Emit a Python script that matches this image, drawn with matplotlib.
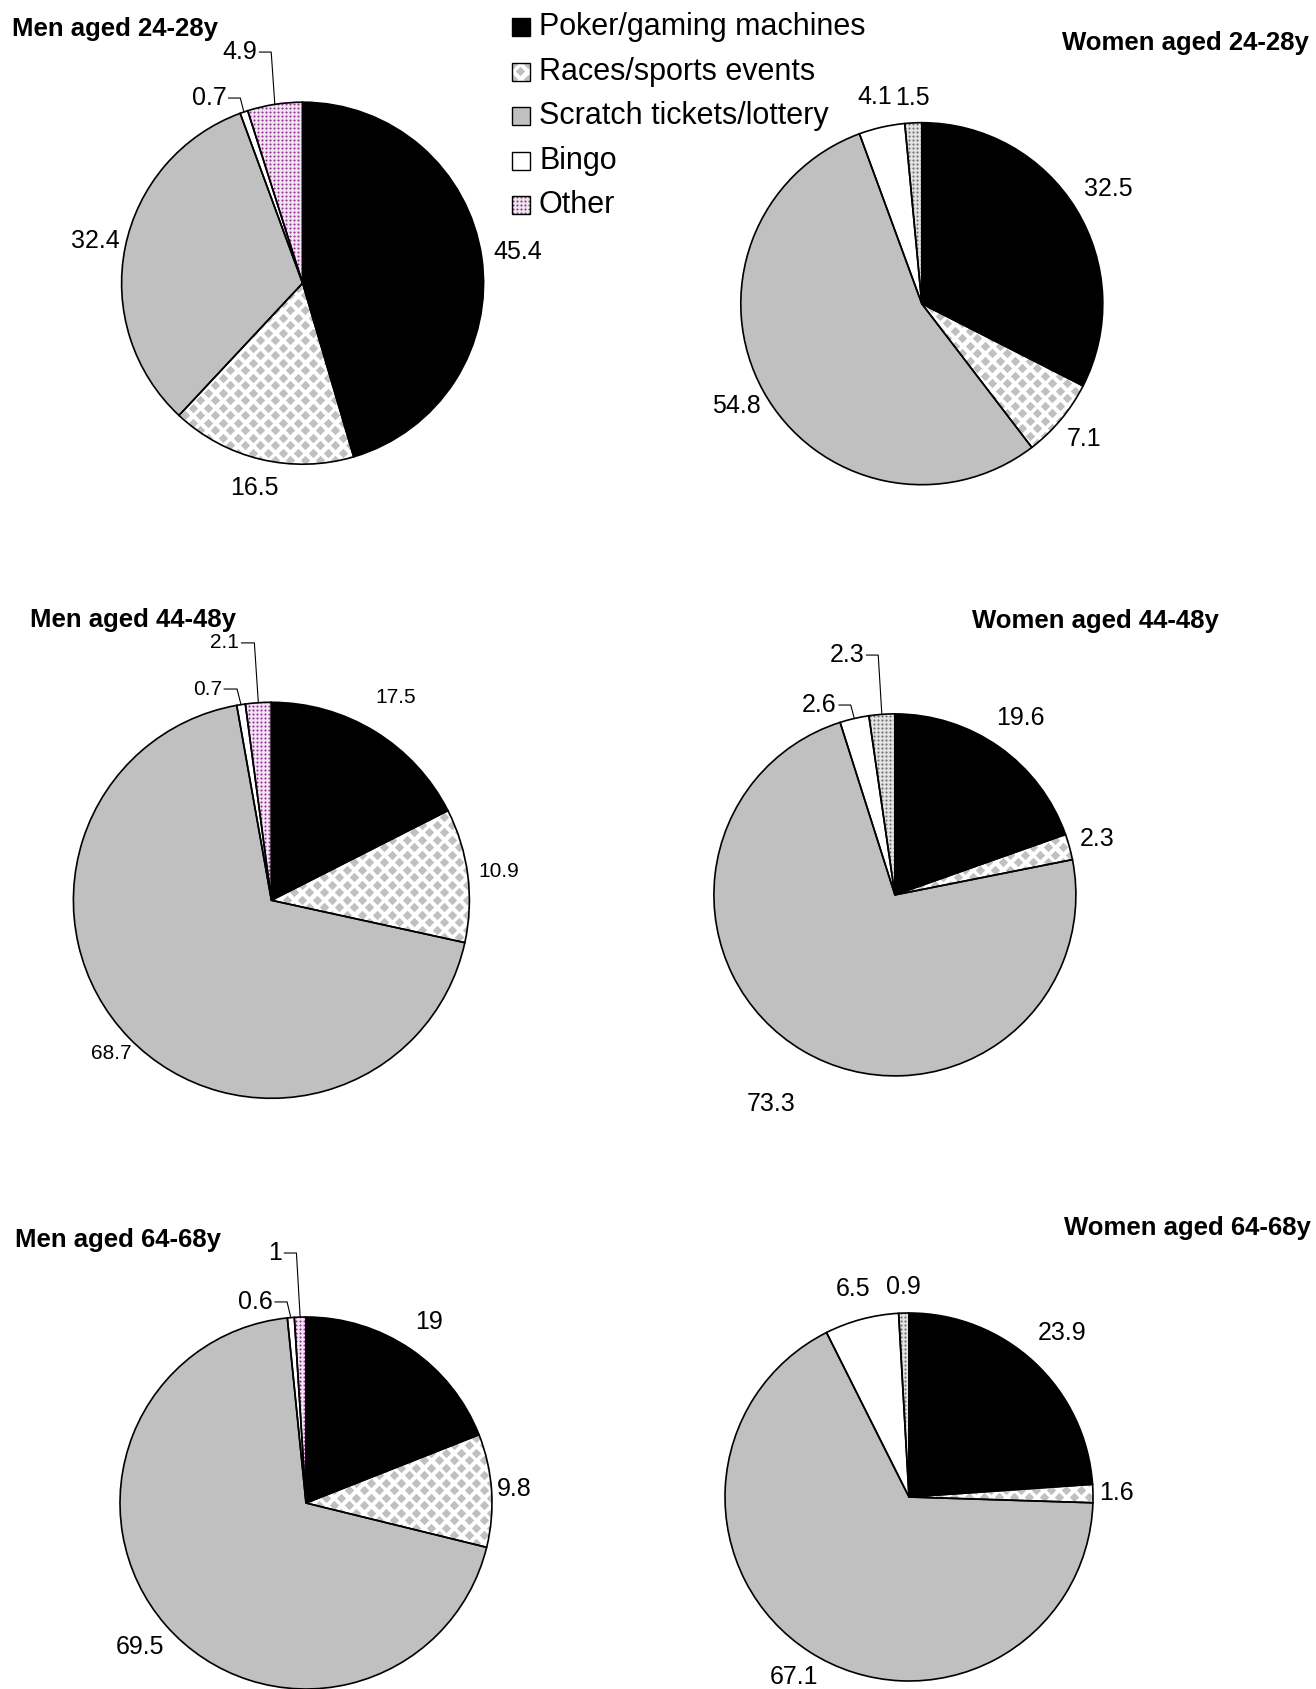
import numpy as np
import matplotlib
matplotlib.use("Agg")
import matplotlib.pyplot as plt
from matplotlib.patches import Wedge, Rectangle

plt.rcParams['font.family'] = ['Liberation Sans', 'DejaVu Sans']

W, H = 1316, 1689
PAD = 1.1  # axes half-width in pie radii, keeps the outline from being clipped

CATEGORIES = ["Poker/gaming machines", "Races/sports events",
              "Scratch tickets/lottery", "Bingo", "Other"]

MEN_24_28 = [45.4, 16.5, 32.4, 0.7, 4.9]
WOMEN_24_28 = [32.5, 7.1, 54.8, 4.1, 1.5]
MEN_44_48 = [17.5, 10.9, 68.7, 0.7, 2.1]
WOMEN_44_48 = [19.6, 2.3, 73.3, 2.6, 2.3]
MEN_64_68 = [19, 9.8, 69.5, 0.6, 1]
WOMEN_64_68 = [23.9, 1.6, 67.1, 6.5, 0.9]

GREY = "#c0c0c0"
OTHER_MEN = ("#f3e4f3", "#8e2f8e")     # background, dots
OTHER_WOMEN = ("#e2e2e2", "#6a6a6a")

# label distance (in radii) per slice; None -> label sits on a leader line
# leaders: slice index -> label height above centre (in radii)
panels = [
    dict(title="Men aged 24-28y", values=MEN_24_28, c=(302.6, 283.2), r=181,
         tpos=(12, 29, "left"), dist=[1.2, 1.16, 1.17, None, None],
         leaders={3: 1.023, 4: 1.277}, fs=18, other=OTHER_MEN),
    dict(title="Women aged 24-28y", values=WOMEN_24_28, c=(921.8, 303.7), r=181,
         tpos=(1309, 43, "right"), dist=[1.21, 1.17, 1.17, 1.17, 1.14],
         leaders={}, fs=18, other=OTHER_WOMEN),
    dict(title="Men aged 44-48y", values=MEN_44_48, c=(271.4, 900.3), r=198,
         tpos=(30, 620, "left"), dist=[1.2, 1.16, 1.12, None, None],
         leaders={3: 1.067, 4: 1.30}, fs=15, other=OTHER_MEN),
    dict(title="Women aged 44-48y", values=WOMEN_44_48, c=(894.9, 894.9), r=181,
         tpos=(1219, 621, "right"), dist=[1.2, 1.16, 1.34, None, None],
         leaders={3: 1.049, 4: 1.325}, fs=18, other=OTHER_WOMEN),
    dict(title="Men aged 64-68y", values=MEN_64_68, c=(306, 1503), r=186,
         tpos=(15, 1240, "left"), dist=[1.18, 1.12, 1.18, None, None],
         leaders={3: 1.081, 4: 1.344}, fs=18, other=OTHER_MEN),
    dict(title="Women aged 64-68y", values=WOMEN_64_68, c=(909, 1497), r=184,
         tpos=(1311, 1228, "right"), dist=[1.22, 1.13, 1.16, 1.17, 1.14],
         leaders={}, fs=18, other=OTHER_WOMEN),
]


def texture(ax, patch, step, marker, size, color, extent, checker=False):
    """Fill a patch with a repeated marker pattern, clipped to the patch."""
    x0, x1, y0, y1 = extent
    xs = np.arange(x0, x1 + step, step)
    ys = np.arange(y0, y1 + step, step)
    gx, gy = np.meshgrid(xs, ys)
    if checker:
        ii, jj = np.meshgrid(np.arange(len(xs)), np.arange(len(ys)))
        keep = (ii + jj) % 2 == 0
        gx, gy = gx[keep], gy[keep]
    sc = ax.scatter(gx.ravel(), gy.ravel(), s=size, marker=marker, c=color,
                    linewidths=0, zorder=2)
    sc.set_clip_path(patch)


fig = plt.figure(figsize=(W / 100, H / 100), dpi=100)

for p in panels:
    cx, cy = p["c"]
    r = p["r"]
    ax = fig.add_axes([(cx - PAD * r) / W, 1 - (cy + PAD * r) / H,
                       2 * PAD * r / W, 2 * PAD * r / H])
    faces = ["black", "white", GREY, "white", p["other"][0]]
    wedges, _ = ax.pie(p["values"], colors=faces, startangle=90,
                       counterclock=False, radius=1,
                       wedgeprops=dict(linewidth=0))
    ext = (-1.02, 1.02, -1.02, 1.02)
    texture(ax, wedges[1], 7.5 / r, "D", 23, GREY, ext, checker=True)
    texture(ax, wedges[4], 4.0 / r, "o", 2.2, p["other"][1], ext)
    for w in wedges:
        ax.add_patch(Wedge(w.center, w.r, w.theta1, w.theta2, fill=False,
                           edgecolor="black", linewidth=1.2, zorder=3))

    for i, (w, v) in enumerate(zip(wedges, p["values"])):
        mid = np.deg2rad((w.theta1 + w.theta2) / 2)
        label = f"{v:g}"
        if i in p["leaders"]:
            px, py = np.cos(mid), np.sin(mid)
            ty = p["leaders"][i]
            knee = px - 0.02
            start = knee - 0.065
            ax.plot([start, knee, px], [ty, ty, py], color="black",
                    linewidth=0.8, clip_on=False, zorder=3)
            ax.text(start - 0.012, ty, label, ha="right", va="center",
                    fontsize=p["fs"])
        else:
            d = p["dist"][i]
            ax.text(d * np.cos(mid), d * np.sin(mid), label, ha="center",
                    va="center", fontsize=p["fs"])

    ax.set_xlim(-PAD, PAD)
    ax.set_ylim(-PAD, PAD)
    ax.axis("off")

# overlay in pixel coordinates for titles and legend
ov = fig.add_axes([0, 0, 1, 1], zorder=5)
ov.set_xlim(0, W)
ov.set_ylim(H, 0)
ov.axis("off")

for p in panels:
    x, y, ha = p["tpos"]
    ov.text(x, y, p["title"], ha=ha, va="center", fontsize=18.5,
            fontweight="bold")

legend_faces = ["black", "white", GREY, "white", OTHER_MEN[0]]
legend_y = [27, 72, 116, 161, 205]
for k, (name, face, y) in enumerate(zip(CATEGORIES, legend_faces, legend_y)):
    box = Rectangle((512, y - 9), 18, 18, facecolor=face, edgecolor="none",
                    zorder=1)
    ov.add_patch(box)
    ext = (505, 537, y - 16, y + 16)
    if k == 1:
        texture(ov, box, 7.5, "D", 23, GREY, ext, checker=True)
    elif k == 4:
        texture(ov, box, 4.0, "o", 2.2, OTHER_MEN[1], ext)
    ov.add_patch(Rectangle((512, y - 9), 18, 18, fill=False,
                           edgecolor="black", linewidth=1.0, zorder=3))
    ov.text(539, y, name, ha="left", va="center", fontsize=22)

fig.savefig("out.png", dpi=100, facecolor="white")
